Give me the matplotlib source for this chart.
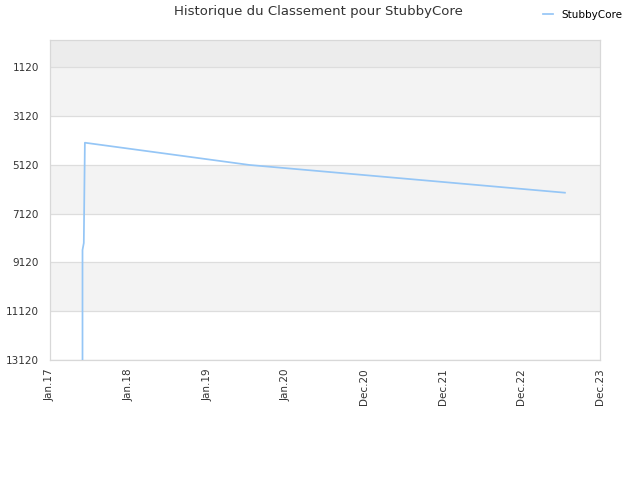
import matplotlib
matplotlib.use("Agg")
import matplotlib.pyplot as plt
import numpy as np
from datetime import datetime

# Data
dates = ["2017-06-01", "2017-06-01", "2017-06-07", "2017-06-12", "2019-07-18", "2023-07-21"]
ranks = [13120, 8610, 8323, 4211, 5125, 6261]
tick_dates = ["2017-01-01", "2018-01-01", "2019-01-01", "2020-01-01",
              "2020-12-31", "2021-12-31", "2022-12-31", "2023-12-31"]
tick_labels = ["Jan.17", "Jan.18", "Jan.19", "Jan.20", "Dec.20", "Dec.21", "Dec.22", "Dec.23"]
y_ticks = [1120, 3120, 5120, 7120, 9120, 11120, 13120]
series_name = "StubbyCore"
title = "Historique du Classement pour StubbyCore"

x = [datetime.strptime(d, "%Y-%m-%d") for d in dates]
xt = [datetime.strptime(d, "%Y-%m-%d") for d in tick_dates]

fig = plt.figure(figsize=(6.4, 4.8), dpi=100)
ax = fig.add_axes([50/640, 1-360/480, 550/640, 320/480])

ymin, ymax = 0, 13120
band_edges = [0] + y_ticks
band_colors = ["#ececec", "#f3f3f3", "white", "#f3f3f3", "white", "#f3f3f3", "white"]
for i in range(len(band_edges)-1):
    ax.axhspan(band_edges[i], band_edges[i+1], color=band_colors[i], zorder=0, lw=0)
for yt in y_ticks:
    ax.axhline(yt, color="#dddddd", lw=0.9, zorder=1)

ax.plot(x, ranks, color="#95c6f6", lw=1.25, zorder=3, label=series_name)

ax.set_ylim(ymax, ymin)
ax.set_xlim(xt[0], xt[-1])
ax.set_yticks(y_ticks)
ax.set_yticklabels([str(v) for v in y_ticks])
ax.set_xticks(xt)
ax.set_xticklabels(tick_labels, rotation=90)
ax.tick_params(axis="both", length=0, labelsize=7.5, colors="#333333", pad=8)
ax.tick_params(axis="x", pad=6)
for s in ax.spines.values():
    s.set_color("#d8d8d8")
    s.set_linewidth(0.9)

fig.text(318/640, 1-12/480, title, ha="center", va="center", fontsize=9.5, color="#333333")
leg = fig.legend(loc="center left", bbox_to_anchor=(534/640, 1-15/480), frameon=False,
                 fontsize=7.5, handlelength=0.9, handletextpad=0.8)
fig.savefig("out.png", dpi=100)
